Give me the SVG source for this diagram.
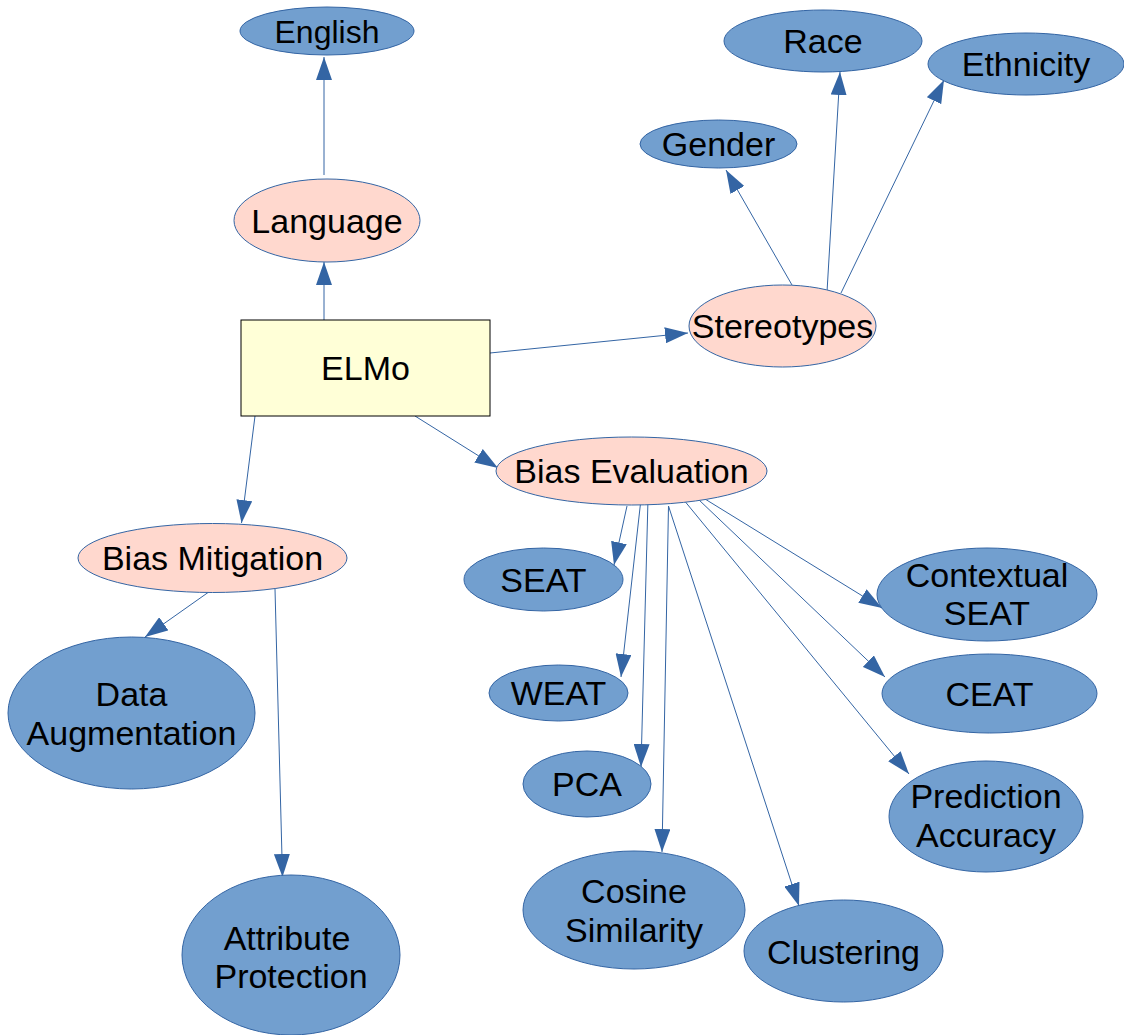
<svg xmlns="http://www.w3.org/2000/svg" width="1124" height="1035" viewBox="0 0 1124 1035">
  <style>
    .leaf { fill: #729fcf; stroke: #3465a4; stroke-width: 1; }
    .topic { fill: #ffd8ce; stroke: #3465a4; stroke-width: 1; }
    .root { fill: #ffffd7; stroke: #000000; stroke-width: 1; }
    text { font-family: "Liberation Sans", Arial, sans-serif; font-size: 34px; fill: #000000; text-anchor: middle; }
    .edge { stroke: #3465a4; stroke-width: 1; fill: none; marker-end: url(#arrow); }
  </style>
  <defs>
    <marker id="arrow" viewBox="0 0 23 16" refX="23" refY="8" markerWidth="23" markerHeight="16" markerUnits="userSpaceOnUse" orient="auto">
      <path d="M0,0 L23,8 L0,16 z" fill="#3465a4"/>
    </marker>
  </defs>

  <!-- connectors -->
  <g id="connectors">
    <line class="edge" x1="324" y1="175" x2="324" y2="57"/>
    <line class="edge" x1="324" y1="320" x2="324" y2="262"/>
    <line class="edge" x1="490" y1="353" x2="688" y2="333"/>
    <line class="edge" x1="792" y1="285" x2="726" y2="170"/>
    <line class="edge" x1="827" y1="292" x2="840" y2="72"/>
    <line class="edge" x1="841" y1="293" x2="944" y2="80"/>
    <line class="edge" x1="415" y1="416" x2="498" y2="468"/>
    <line class="edge" x1="255" y1="416" x2="241.5" y2="523"/>
    <line class="edge" x1="213" y1="589" x2="145" y2="637"/>
    <line class="edge" x1="275" y1="589" x2="282.5" y2="877"/>
    <line class="edge" x1="627" y1="506" x2="614" y2="565"/>
    <line class="edge" x1="641" y1="499" x2="621" y2="677"/>
    <line class="edge" x1="648" y1="499" x2="641" y2="767"/>
    <line class="edge" x1="668.5" y1="506" x2="662" y2="852"/>
    <line class="edge" x1="668.5" y1="506" x2="799" y2="906"/>
    <line class="edge" x1="683" y1="499" x2="909" y2="774"/>
    <line class="edge" x1="698" y1="499" x2="885" y2="677"/>
    <line class="edge" x1="705" y1="499" x2="882" y2="608"/>
  </g>

  <!-- nodes -->
  <g id="english">
    <ellipse class="leaf" cx="327" cy="31" rx="87" ry="24"/>
    <text x="327" y="43" style="font-size:32px">English</text>
  </g>
  <g id="language">
    <ellipse class="topic" cx="327" cy="220.5" rx="93" ry="41.5"/>
    <text x="327" y="233">Language</text>
  </g>
  <g id="elmo">
    <rect class="root" x="241" y="320" width="249" height="96"/>
    <text x="365.5" y="380">ELMo</text>
  </g>
  <g id="stereotypes">
    <ellipse class="topic" cx="782.5" cy="326" rx="93.5" ry="41"/>
    <text x="782.5" y="338">Stereotypes</text>
  </g>
  <g id="race">
    <ellipse class="leaf" cx="823" cy="41" rx="99" ry="31"/>
    <text x="823" y="53">Race</text>
  </g>
  <g id="ethnicity">
    <ellipse class="leaf" cx="1026" cy="64" rx="98" ry="31"/>
    <text x="1026" y="76">Ethnicity</text>
  </g>
  <g id="gender">
    <ellipse class="leaf" cx="718.5" cy="144" rx="78.5" ry="24"/>
    <text x="718.5" y="156">Gender</text>
  </g>
  <g id="bias-evaluation">
    <ellipse class="topic" cx="631.5" cy="471" rx="135.5" ry="34"/>
    <text x="631.5" y="483">Bias Evaluation</text>
  </g>
  <g id="bias-mitigation">
    <ellipse class="topic" cx="212.5" cy="558" rx="134.5" ry="34.5"/>
    <text x="212.5" y="570">Bias Mitigation</text>
  </g>
  <g id="data-augmentation">
    <ellipse class="leaf" cx="131.5" cy="713" rx="123.5" ry="76"/>
    <text x="131.5" y="706">Data</text>
    <text x="131.5" y="745">Augmentation</text>
  </g>
  <g id="attribute-protection">
    <ellipse class="leaf" cx="291" cy="955" rx="109" ry="80"/>
    <text x="287" y="950">Attribute</text>
    <text x="291" y="988">Protection</text>
  </g>
  <g id="seat">
    <ellipse class="leaf" cx="543.5" cy="579.5" rx="79.5" ry="31.5"/>
    <text x="543.5" y="592">SEAT</text>
  </g>
  <g id="weat">
    <ellipse class="leaf" cx="558.5" cy="693" rx="69.5" ry="28"/>
    <text x="558.5" y="705">WEAT</text>
  </g>
  <g id="pca">
    <ellipse class="leaf" cx="587" cy="784" rx="64" ry="33"/>
    <text x="587" y="796">PCA</text>
  </g>
  <g id="cosine-similarity">
    <ellipse class="leaf" cx="634" cy="910" rx="111" ry="59"/>
    <text x="634" y="903">Cosine</text>
    <text x="634" y="942">Similarity</text>
  </g>
  <g id="clustering">
    <ellipse class="leaf" cx="843.5" cy="951" rx="99.5" ry="51"/>
    <text x="843.5" y="964">Clustering</text>
  </g>
  <g id="contextual-seat">
    <ellipse class="leaf" cx="987" cy="594.5" rx="110" ry="46.5"/>
    <text x="987" y="587">Contextual</text>
    <text x="987" y="625">SEAT</text>
  </g>
  <g id="ceat">
    <ellipse class="leaf" cx="989.5" cy="693.5" rx="107.5" ry="39.5"/>
    <text x="989.5" y="706">CEAT</text>
  </g>
  <g id="prediction-accuracy">
    <ellipse class="leaf" cx="986" cy="816.5" rx="97" ry="55.5"/>
    <text x="986" y="808">Prediction</text>
    <text x="986" y="847">Accuracy</text>
  </g>
</svg>
